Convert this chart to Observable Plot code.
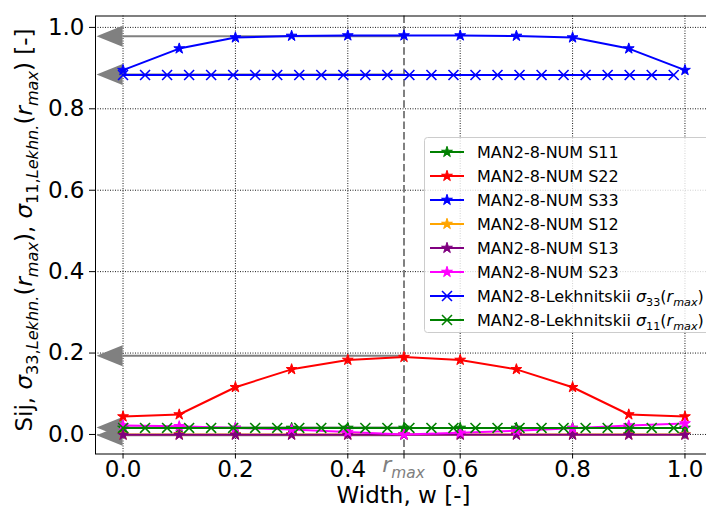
<!DOCTYPE html>
<html><head><meta charset="utf-8">
<script src="https://cdn.jsdelivr.net/npm/d3@7"></script>
<script src="https://cdn.jsdelivr.net/npm/@observablehq/plot@0.6"></script>
<style>
html,body{margin:0;padding:0;background:#fff;overflow:hidden;}
#chart{position:relative;width:706px;height:516px;overflow:hidden;}
</style></head><body><div id="chart"></div>
<script>
// ---- data ----
const xTicks = [0, 0.2, 0.4, 0.6, 0.8, 1.0];
const yTicks = [0, 0.2, 0.4, 0.6, 0.8, 1.0];
const rMax = 0.5;
const widthW = [0, 0.1, 0.2, 0.3, 0.4, 0.5, 0.6, 0.7, 0.8, 0.9, 1.0];
const numS11 = [0.016, 0.016, 0.016, 0.016, 0.016, 0.016, 0.016, 0.016, 0.016, 0.016, 0.016];
const numS22 = [0.044, 0.049, 0.116, 0.160, 0.183, 0.190, 0.183, 0.160, 0.116, 0.049, 0.044];
const numS33 = [0.895, 0.948, 0.975, 0.979, 0.980, 0.980, 0.980, 0.979, 0.975, 0.948, 0.895];
const numS12 = [0, 0, 0, 0, 0, 0, 0, 0, 0, 0, 0];
const numS13 = [-0.001, -0.001, -0.001, -0.001, -0.001, -0.001, -0.001, -0.001, -0.001, -0.001, -0.001];
const numS23 = [0.022, 0.020, 0.016, 0.012, 0.006, 0.000, 0.004, 0.009, 0.015, 0.022, 0.027];
const lekhW = [0, 0.0392, 0.0784, 0.1176, 0.1568, 0.196, 0.2352, 0.2744, 0.3136, 0.3528, 0.392, 0.4312, 0.4704,
  0.5096, 0.5488, 0.588, 0.6272, 0.6664, 0.7056, 0.7448, 0.784, 0.8232, 0.8624, 0.9016, 0.9408, 0.98];
const lekh33 = [0.883, 0.883, 0.883, 0.883, 0.883, 0.883, 0.883, 0.883, 0.883, 0.883, 0.883, 0.883, 0.883,
  0.883, 0.883, 0.883, 0.883, 0.883, 0.883, 0.883, 0.883, 0.883, 0.883, 0.883, 0.883, 0.883];
const lekh11 = [0.016, 0.016, 0.016, 0.016, 0.016, 0.016, 0.016, 0.016, 0.016, 0.016, 0.016, 0.016, 0.016,
  0.016, 0.016, 0.016, 0.016, 0.016, 0.016, 0.016, 0.016, 0.016, 0.016, 0.016, 0.016, 0.016];
const arrowLevels = [0.977, 0.883, 0.192, 0.016, -0.003];
const seriesNames = ["MAN2-8-NUM S11", "MAN2-8-NUM S22", "MAN2-8-NUM S33", "MAN2-8-NUM S12",
  "MAN2-8-NUM S13", "MAN2-8-NUM S23", "MAN2-8-Lekhnitskii", "MAN2-8-Lekhnitskii"];
const seriesColors = ["green", "red", "blue", "orange", "purple", "magenta", "blue", "green"];

const series = [
  {xs: widthW, ys: numS11, sym: "star"},
  {xs: widthW, ys: numS22, sym: "star"},
  {xs: widthW, ys: numS33, sym: "star"},
  {xs: widthW, ys: numS12, sym: "star"},
  {xs: widthW, ys: numS13, sym: "star"},
  {xs: widthW, ys: numS23, sym: "star"},
  {xs: lekhW, ys: lekh33, sym: "times", sub: "33"},
  {xs: lekhW, ys: lekh11, sym: "times", sub: "11"}
].map((s, i) => ({...s, name: seriesNames[i], color: seriesColors[i],
  rows: s.xs.map((x, j) => ({x, y: s.ys[j]}))}));

// ---- marks ----
const FONT = "DejaVu Sans";
function arrowsMark(index, scales) {
  const g = d3.create("svg:g");
  for (const v of arrowLevels) {
    const yy = scales.y(v), xb = scales.x(0), xe = scales.x(rMax);
    g.append("line").attr("x1", xb).attr("x2", xe).attr("y1", yy).attr("y2", yy)
      .attr("stroke", "gray").attr("stroke-width", 2);
    g.append("path").attr("d", `M${xb - 26},${yy} L${xb},${yy - 10.5} L${xb},${yy + 10.5} Z`)
      .attr("fill", "gray");
  }
  return g.node();
}

const gridStyle = {stroke: "#000", strokeOpacity: 1, strokeWidth: 0.9, strokeDasharray: "1,1.5"};
const marks = [
  Plot.gridX(xTicks, gridStyle),
  Plot.gridY(yTicks, gridStyle),
  arrowsMark,
  Plot.ruleX([rMax], {stroke: "gray", strokeWidth: 2, strokeDasharray: "7.4,3.2"})
];
for (const s of series) {
  marks.push(Plot.line(s.rows, {x: "x", y: "y", stroke: s.color, strokeWidth: 2}));
  if (s.sym === "star")
    marks.push(Plot.dot(s.rows, {x: "x", y: "y", symbol: "star", r: 3.4, fill: s.color, stroke: s.color, strokeWidth: 1}));
  else
    marks.push(Plot.dot(s.rows, {x: "x", y: "y", symbol: "times", r: 4.6, stroke: s.color, strokeWidth: 1.6}));
}
marks.push(Plot.frame({stroke: "black", strokeWidth: 1}));
marks.push(Plot.axisX(xTicks.concat([rMax]), {tickFormat: d => d === rMax ? "" : d3.format(".1f")(d),
  fontSize: 23, tickSize: 5, tickPadding: 2, label: null, stroke: "black"}));
marks.push(Plot.axisY(yTicks, {tickFormat: d3.format(".1f"), fontSize: 23, tickSize: 6, tickPadding: 5,
  label: null, stroke: "black"}));

const plot = Plot.plot({
  width: 706, height: 516,
  marginLeft: 95, marginRight: -6, marginTop: 15.5, marginBottom: 62.5,
  x: {domain: [-0.049, 1.049]},
  y: {domain: [-0.048, 1.028]},
  style: {fontFamily: FONT, color: "black", background: "white", overflow: "hidden"},
  marks
});
document.getElementById("chart").appendChild(plot);

// ---- rich text helpers ----
const svg = d3.select(plot);
function richText(sel, parts, base) {
  let cur = 0;
  for (const p of parts) {
    const off = p.sub ? base * 0.25 : 0;
    sel.append("tspan").attr("dy", off - cur)
      .attr("font-size", p.sub ? base * 0.7 : base)
      .attr("font-style", p.it ? "italic" : "normal")
      .text(p.t);
    cur = off;
  }
}
const xs = plot.scale("x"), ys = plot.scale("y");

// r_max tick label
const rx = xs.apply(rMax);
const rt = svg.append("text").attr("x", rx).attr("y", 472).attr("text-anchor", "middle")
  .attr("fill", "gray").attr("font-family", FONT);
richText(rt, [{t: "r", it: 1}, {t: "max", it: 1, sub: 1}], 22);

// x label
svg.append("text").attr("x", 403.5).attr("y", 503).attr("text-anchor", "middle")
  .attr("font-family", FONT).attr("font-size", 23).attr("fill", "black").text("Width, w [-]");

// y label
const yl = svg.append("text").attr("transform", "translate(32,230) rotate(-90)")
  .attr("text-anchor", "middle").attr("font-family", FONT).attr("fill", "black");
richText(yl, [
  {t: "Sij, "}, {t: "σ", it: 1}, {t: "33,", sub: 1}, {t: "Lekhn.", sub: 1, it: 1}, {t: "("}, {t: "r", it: 1},
  {t: "max", sub: 1, it: 1}, {t: "), "}, {t: "σ", it: 1}, {t: "11,", sub: 1}, {t: "Lekhn.", sub: 1, it: 1},
  {t: "("}, {t: "r", it: 1}, {t: "max", sub: 1, it: 1}, {t: ") [-]"}
], 23);

// legend
const lg = svg.append("g");
lg.append("rect").attr("x", 424.5).attr("y", 137.5).attr("width", 300).attr("height", 195).attr("rx", 3)
  .attr("fill", "white").attr("fill-opacity", 0.8).attr("stroke", "#cccccc");
series.forEach((s, i) => {
  const cy = 152 + i * 24;
  lg.append("line").attr("x1", 430).attr("x2", 464).attr("y1", cy).attr("y2", cy)
    .attr("stroke", s.color).attr("stroke-width", 2);
  lg.append("path").attr("transform", `translate(447,${cy})`)
    .attr("d", d3.symbol(s.sym === "star" ? d3.symbolStar : d3.symbolTimes, s.sym === "star" ? 3.4 * 3.4 * Math.PI : 4.6 * 4.6 * Math.PI)())
    .attr("fill", s.sym === "star" ? s.color : "none").attr("stroke", s.color)
    .attr("stroke-width", s.sym === "star" ? 1 : 1.6);
  const t = lg.append("text").attr("x", 477).attr("y", cy + 5.8).attr("text-anchor", "start")
    .attr("font-family", FONT).attr("fill", "black");
  if (s.sub) {
    richText(t, [{t: s.name + " "}, {t: "σ", it: 1}, {t: s.sub, sub: 1}, {t: "("}, {t: "r", it: 1},
      {t: "max", sub: 1, it: 1}, {t: ")"}], 16);
  } else {
    t.attr("font-size", 16).text(s.name);
  }
});
</script></body></html>
